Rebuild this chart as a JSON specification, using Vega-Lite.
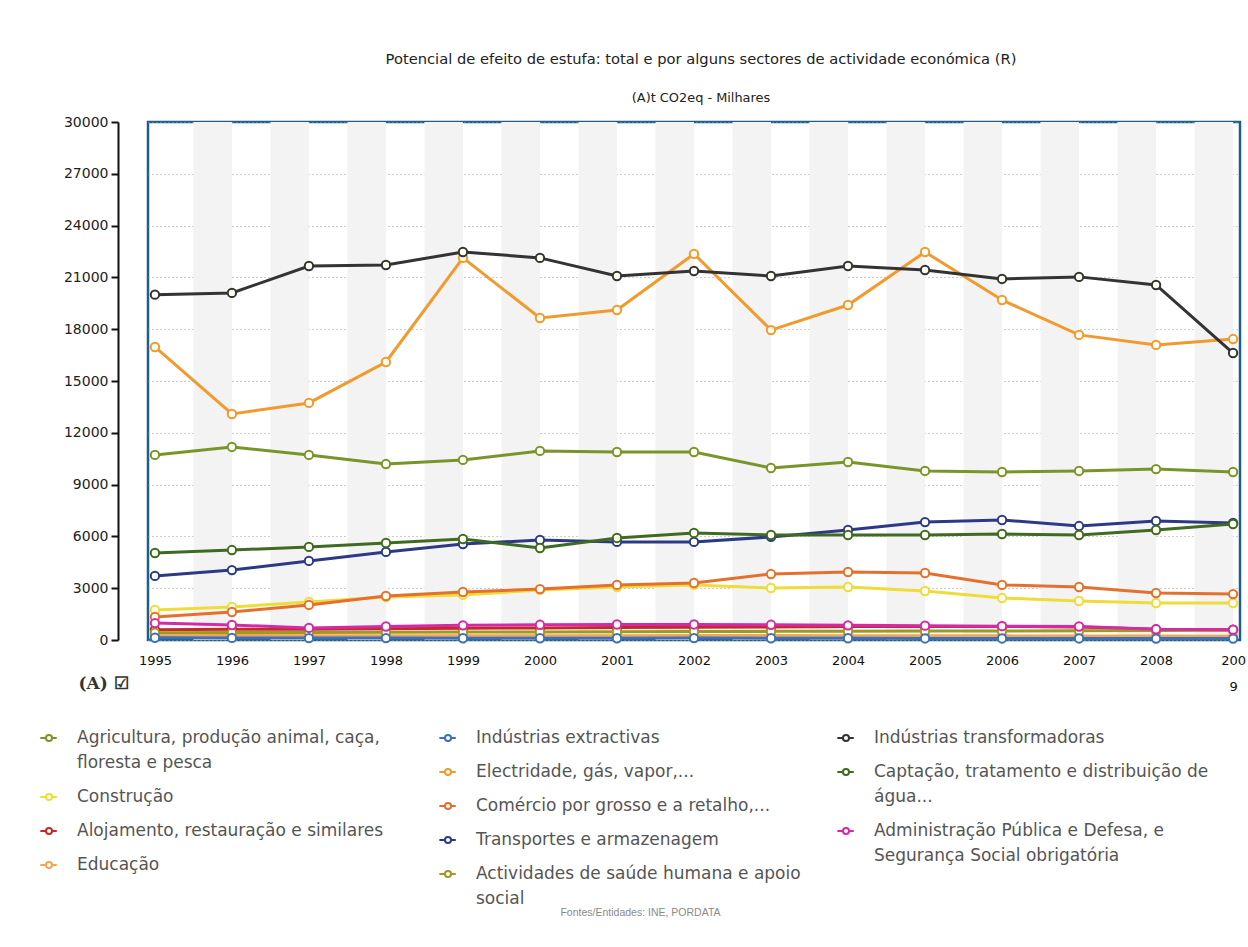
{
  "$schema": "https://vega.github.io/schema/vega-lite/v6.json",
  "autosize": "none",
  "width": 1092,
  "height": 518,
  "padding": {"left": 148, "top": 122, "right": 8, "bottom": 307},
  "background": "white",
  "title": {
    "text": "Potencial de efeito de estufa: total e por alguns sectores de actividade económica (R)",
    "subtitle": "(A)t CO2eq - Milhares",
    "anchor": "middle",
    "frame": "group",
    "dx": 7,
    "font": "DejaVu Sans",
    "fontSize": 14.7,
    "fontWeight": "normal",
    "color": "#222222",
    "subtitleFont": "DejaVu Sans",
    "subtitleFontSize": 12.9,
    "subtitleColor": "#222222",
    "subtitlePadding": 25,
    "offset": 10
  },
  "datasets": {
    "bands": [
      {"b0": 1995.5, "b1": 1996}, {"b0": 1996.5, "b1": 1997}, {"b0": 1997.5, "b1": 1998},
      {"b0": 1998.5, "b1": 1999}, {"b0": 1999.5, "b1": 2000}, {"b0": 2000.5, "b1": 2001},
      {"b0": 2001.5, "b1": 2002}, {"b0": 2002.5, "b1": 2003}, {"b0": 2003.5, "b1": 2004},
      {"b0": 2004.5, "b1": 2005}, {"b0": 2005.5, "b1": 2006}, {"b0": 2006.5, "b1": 2007},
      {"b0": 2007.5, "b1": 2008}, {"b0": 2008.5, "b1": 2009}
    ],
    "series": [
      {"s": "Indústrias transformadoras", "v": [20000, 20100, 21660, 21720, 22470, 22130, 21080, 21370, 21080, 21660, 21430, 20910, 21030, 20560, 16620]},
      {"s": "Electridade, gás, vapor,...", "v": [16970, 13090, 13730, 16100, 22130, 18650, 19110, 22360, 17950, 19400, 22470, 19690, 17670, 17090, 17430]},
      {"s": "Agricultura, produção animal, caça, floresta e pesca", "v": [10720, 11180, 10720, 10190, 10430, 10950, 10890, 10890, 9960, 10310, 9790, 9730, 9790, 9900, 9730]},
      {"s": "Captação, tratamento e distribuição de água...", "v": [5040, 5210, 5390, 5620, 5850, 5330, 5910, 6200, 6080, 6080, 6080, 6140, 6080, 6370, 6720]},
      {"s": "Transportes e armazenagem", "v": [3710, 4050, 4580, 5100, 5560, 5790, 5680, 5680, 5970, 6370, 6830, 6950, 6600, 6890, 6780]},
      {"s": "Comércio por grosso e a retalho,...", "v": [1330, 1620, 2030, 2550, 2780, 2950, 3190, 3300, 3820, 3940, 3880, 3190, 3070, 2720, 2660]},
      {"s": "Construção", "v": [1740, 1910, 2200, 2490, 2610, 2900, 3070, 3190, 3010, 3070, 2840, 2430, 2260, 2140, 2140]},
      {"s": "Administração Pública e Defesa, e Segurança Social obrigatória", "v": [980, 870, 700, 780, 850, 880, 900, 900, 880, 850, 830, 800, 780, 620, 600]},
      {"s": "Alojamento, restauração e similares", "v": [600, 620, 620, 650, 680, 700, 720, 740, 760, 780, 780, 780, 760, 620, 600]},
      {"s": "Actividades de saúde humana e apoio social", "v": [420, 430, 430, 450, 460, 470, 480, 490, 500, 510, 520, 520, 530, 550, 560]},
      {"s": "Educação", "v": [250, 260, 250, 240, 250, 250, 250, 260, 260, 250, 250, 240, 230, 230, 220]},
      {"s": "Indústrias extractivas", "v": [130, 120, 110, 110, 100, 100, 100, 110, 100, 100, 90, 90, 90, 80, 80]}
    ]
  },
  "resolve": {"scale": {"stroke": "independent"}, "legend": {"stroke": "independent"}},
  "layer": [
    {
      "data": {"name": "bands"},
      "mark": {"type": "rect", "color": "#f3f3f3"},
      "encoding": {
        "x": {"field": "b0", "type": "quantitative", "scale": {"domain": [1994.91, 2009.09], "nice": false, "zero": false},
          "axis": {
            "values": [1995,1996,1997,1998,1999,2000,2001,2002,2003,2004,2005,2006,2007,2008,2009],
            "format": "d",
            "labelExpr": "datum.value == 2009 ? ['200', '9'] : datum.label",
            "domain": false, "ticks": false, "grid": false,
            "labelFont": "DejaVu Sans", "labelFontSize": 13, "labelColor": "#111111",
            "labelPadding": 14, "labelFlush": false, "labelBaseline": "top", "labelLineHeight": 26,
            "title": "Fontes/Entidades: INE, PORDATA",
            "titleFont": "Liberation Sans", "titleFontSize": 10.5, "titleFontWeight": "normal",
            "titleColor": "#8a8a8a", "titleX": 492, "titleY": 267, "titleAnchor": "middle", "titleAlign": "center"
          }
        },
        "x2": {"field": "b1"},
        "y": {"datum": 0, "type": "quantitative", "scale": {"domain": [0, 30000], "nice": false},
          "axis": {
            "values": [0,3000,6000,9000,12000,15000,18000,21000,24000,27000,30000],
            "format": "d",
            "offset": 30,
            "domain": true, "domainColor": "#111111", "domainWidth": 2,
            "ticks": true, "tickColor": "#111111", "tickWidth": 2, "tickSize": 7,
            "labelFont": "DejaVu Sans", "labelFontSize": 14, "labelColor": "#222222", "labelPadding": 3,
            "grid": true, "gridColor": "#9a9a9a", "gridDash": [1, 3], "gridWidth": 1,
            "title": "(A) ☑",
            "titleAngle": 0, "titleFont": "DejaVu Serif", "titleFontSize": 17, "titleFontWeight": "bold",
            "titleColor": "#333333", "titleX": -40, "titleY": 561, "titleAlign": "left", "titleBaseline": "middle"
          }
        },
        "y2": {"datum": 30000}
      }
    },
    {
      "data": {"name": "series"},
      "transform": [
        {"filter": {"field": "s", "oneOf": ["Agricultura, produção animal, caça, floresta e pesca", "Construção", "Alojamento, restauração e similares", "Educação"]}},
        {"calculate": "[1995,1996,1997,1998,1999,2000,2001,2002,2003,2004,2005,2006,2007,2008,2009]", "as": "yrs"},
        {"flatten": ["yrs", "v"], "as": ["ano", "valor"]}
      ],
      "encoding": {
        "x": {"field": "ano", "type": "quantitative"},
        "y": {"field": "valor", "type": "quantitative"},
        "stroke": {
          "field": "s", "type": "nominal",
          "scale": {
            "domain": ["Agricultura, produção animal, caça, floresta e pesca", "Construção", "Alojamento, restauração e similares", "Educação"],
            "range": ["#78952a", "#eedc3a", "#c42a2a", "#f2a64e"]
          },
          "legend": {
            "orient": "none", "legendX": -109, "legendY": 606, "rowPadding": 16,
            "title": null,
            "symbolType": "M -1 0 L -0.35 0 M 0.35 0 L 0.9 0 M 0.35 0 A 0.35 0.35 0 1 1 -0.35 0 A 0.35 0.35 0 1 1 0.35 0",
            "symbolSize": 300, "symbolStrokeWidth": 2, "symbolFillColor": "#ffffff",
            "labelFont": "DejaVu Sans", "labelFontSize": 17, "labelColor": "#555555", "labelOffset": 18, "labelLimit": 420,
            "encode": {"labels": {"update": {"lineHeight": {"value": 25}}}},
            "labelExpr": "datum.label == 'Agricultura, produção animal, caça, floresta e pesca' ? ['Agricultura, produção animal, caça,', 'floresta e pesca'] : datum.label"
          }
        }
      },
      "layer": [
        {"mark": {"type": "line", "strokeWidth": 3}},
        {"mark": {"type": "point", "filled": true, "fill": "#fffdf0", "strokeWidth": 2, "size": 70, "opacity": 1}}
      ]
    },
    {
      "data": {"name": "series"},
      "transform": [
        {"filter": {"field": "s", "oneOf": ["Indústrias extractivas", "Electridade, gás, vapor,...", "Comércio por grosso e a retalho,...", "Transportes e armazenagem", "Actividades de saúde humana e apoio social"]}},
        {"calculate": "[1995,1996,1997,1998,1999,2000,2001,2002,2003,2004,2005,2006,2007,2008,2009]", "as": "yrs"},
        {"flatten": ["yrs", "v"], "as": ["ano", "valor"]}
      ],
      "encoding": {
        "x": {"field": "ano", "type": "quantitative"},
        "y": {"field": "valor", "type": "quantitative"},
        "stroke": {
          "field": "s", "type": "nominal",
          "scale": {
            "domain": ["Indústrias extractivas", "Electridade, gás, vapor,...", "Comércio por grosso e a retalho,...", "Transportes e armazenagem", "Actividades de saúde humana e apoio social"],
            "range": ["#3b6fc0", "#f29a2e", "#e5702e", "#2c3a86", "#9c9a22"]
          },
          "legend": {
            "orient": "none", "legendX": 290, "legendY": 606, "rowPadding": 16,
            "title": null,
            "symbolType": "M -1 0 L -0.35 0 M 0.35 0 L 0.9 0 M 0.35 0 A 0.35 0.35 0 1 1 -0.35 0 A 0.35 0.35 0 1 1 0.35 0",
            "symbolSize": 300, "symbolStrokeWidth": 2, "symbolFillColor": "#ffffff",
            "labelFont": "DejaVu Sans", "labelFontSize": 17, "labelColor": "#555555", "labelOffset": 18, "labelLimit": 420,
            "encode": {"labels": {"update": {"lineHeight": {"value": 25}}}},
            "labelExpr": "datum.label == 'Actividades de saúde humana e apoio social' ? ['Actividades de saúde humana e apoio', 'social'] : datum.label"
          }
        }
      },
      "layer": [
        {"mark": {"type": "line", "strokeWidth": 3}},
        {"mark": {"type": "point", "filled": true, "fill": "#fffdf0", "strokeWidth": 2, "size": 70, "opacity": 1}}
      ]
    },
    {
      "data": {"name": "series"},
      "transform": [
        {"filter": {"field": "s", "oneOf": ["Indústrias transformadoras", "Captação, tratamento e distribuição de água...", "Administração Pública e Defesa, e Segurança Social obrigatória"]}},
        {"calculate": "[1995,1996,1997,1998,1999,2000,2001,2002,2003,2004,2005,2006,2007,2008,2009]", "as": "yrs"},
        {"flatten": ["yrs", "v"], "as": ["ano", "valor"]}
      ],
      "encoding": {
        "x": {"field": "ano", "type": "quantitative"},
        "y": {"field": "valor", "type": "quantitative"},
        "stroke": {
          "field": "s", "type": "nominal",
          "scale": {
            "domain": ["Indústrias transformadoras", "Captação, tratamento e distribuição de água...", "Administração Pública e Defesa, e Segurança Social obrigatória"],
            "range": ["#333333", "#3f6a22", "#d42aa8"]
          },
          "legend": {
            "orient": "none", "legendX": 688, "legendY": 606, "rowPadding": 16,
            "title": null,
            "symbolType": "M -1 0 L -0.35 0 M 0.35 0 L 0.9 0 M 0.35 0 A 0.35 0.35 0 1 1 -0.35 0 A 0.35 0.35 0 1 1 0.35 0",
            "symbolSize": 300, "symbolStrokeWidth": 2, "symbolFillColor": "#ffffff",
            "labelFont": "DejaVu Sans", "labelFontSize": 17, "labelColor": "#555555", "labelOffset": 18, "labelLimit": 420,
            "encode": {"labels": {"update": {"lineHeight": {"value": 25}}}},
            "labelExpr": "datum.label == 'Captação, tratamento e distribuição de água...' ? ['Captação, tratamento e distribuição de', 'água...'] : datum.label == 'Administração Pública e Defesa, e Segurança Social obrigatória' ? ['Administração Pública e Defesa, e', 'Segurança Social obrigatória'] : datum.label"
          }
        }
      },
      "layer": [
        {"mark": {"type": "line", "strokeWidth": 3}},
        {"mark": {"type": "point", "filled": true, "fill": "#fffdf0", "strokeWidth": 2, "size": 70, "opacity": 1}}
      ]
    }
  ],
  "config": {
    "view": {"stroke": "#1d5f8c", "strokeWidth": 2.5}
  }
}
